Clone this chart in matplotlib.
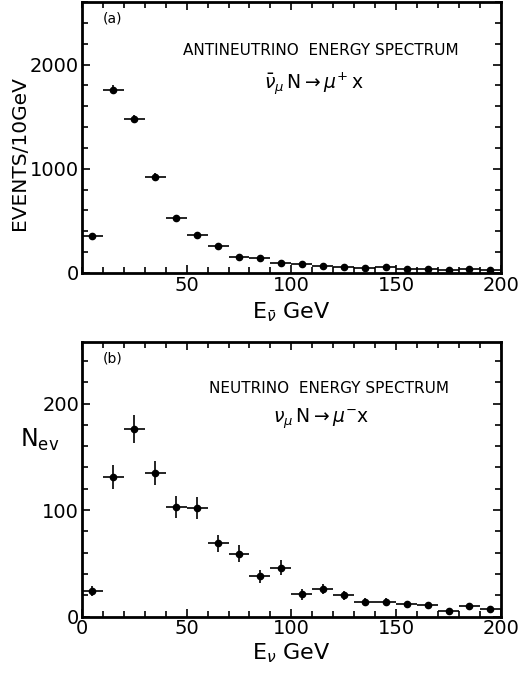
import numpy as np
import matplotlib.pyplot as plt
from matplotlib.ticker import MultipleLocator

# bin centres (10 GeV bins)
energy = [5, 15, 25, 35, 45, 55, 65, 75, 85, 95,
          105, 115, 125, 135, 145, 155, 165, 175, 185, 195]
bin_half = [5] * 20

# (a) antineutrino events / 10 GeV
anti_events = [350, 1760, 1478, 925, 532, 368, 263, 154, 141, 93,
               83, 70, 58, 51, 54, 35, 38, 26, 42, 32]
anti_err = [19, 42, 38, 30, 23, 19, 16, 12, 12, 10,
            9, 8, 8, 7, 7, 6, 6, 5, 6, 6]

# (b) neutrino events
nu_events = [24, 131, 176, 135, 103, 102, 69, 59, 38, 46,
             21, 26, 20, 14, 14, 12, 11, 5, 10, 7]
nu_err = [5, 11, 13, 11, 10, 10, 8, 8, 6, 7,
          5, 5, 4, 4, 4, 3, 3, 2, 3, 3]

fig = plt.figure(figsize=(5.18, 6.74), dpi=100)
ax1 = fig.add_axes([0.158, 0.595, 0.809, 0.402])
ax2 = fig.add_axes([0.158, 0.085, 0.809, 0.408])


def style_axis(ax, ymax, ymajor, yminor):
    ax.set_xlim(0, 200)
    ax.set_ylim(0, ymax)
    ax.xaxis.set_major_locator(MultipleLocator(50))
    ax.xaxis.set_minor_locator(MultipleLocator(10))
    ax.yaxis.set_major_locator(MultipleLocator(ymajor))
    ax.yaxis.set_minor_locator(MultipleLocator(yminor))
    ax.tick_params(which='both', direction='in', top=True, right=True,
                   labelsize=14, width=1.2)
    ax.tick_params(which='major', length=6, pad=2)
    ax.tick_params(which='minor', length=4)
    for s in ax.spines.values():
        s.set_linewidth(2)


def draw_points(ax, y, yerr):
    ax.errorbar(energy, y, xerr=bin_half, yerr=yerr, fmt='o', color='black',
                markersize=4.5, elinewidth=1.2, capsize=0)


draw_points(ax1, anti_events, anti_err)
style_axis(ax1, 2600, 1000, 200)
ax1.set_xticks([50, 100, 150, 200])
ax1.set_ylabel('EVENTS/10GeV', fontsize=14.5, va='center')
ax1.yaxis.set_label_coords(-0.148, 0.443)
ax1.set_xlabel(r'E$_{\bar{\nu}}$ GeV', fontsize=16, labelpad=4)
ax1.text(0.05, 0.94, '(a)', transform=ax1.transAxes, fontsize=10, va='center')
ax1.text(0.57, 0.82, 'ANTINEUTRINO  ENERGY SPECTRUM', transform=ax1.transAxes,
         fontsize=11, ha='center', va='center')
ax1.text(0.553, 0.70, r'$\bar{\nu}_\mu\,\mathrm{N}\rightarrow\mu^{+}\,\mathrm{x}$',
         transform=ax1.transAxes, fontsize=13.5, ha='center', va='center')

draw_points(ax2, nu_events, nu_err)
style_axis(ax2, 258, 100, 20)
ax2.set_ylabel(r'N$_{\mathrm{ev}}$', fontsize=17, rotation=0,
               ha='center', va='center')
ax2.yaxis.set_label_coords(-0.10, 0.644)
ax2.set_xlabel(r'E$_{\nu}$ GeV', fontsize=16, labelpad=2)
ax2.text(0.05, 0.94, '(b)', transform=ax2.transAxes, fontsize=10, va='center')
ax2.text(0.59, 0.83, 'NEUTRINO  ENERGY SPECTRUM', transform=ax2.transAxes,
         fontsize=11, ha='center', va='center')
ax2.text(0.57, 0.72, r'$\nu_\mu\,\mathrm{N}\rightarrow\mu^{-}\mathrm{x}$',
         transform=ax2.transAxes, fontsize=13.5, ha='center', va='center')

fig.savefig('out.png', dpi=100)
